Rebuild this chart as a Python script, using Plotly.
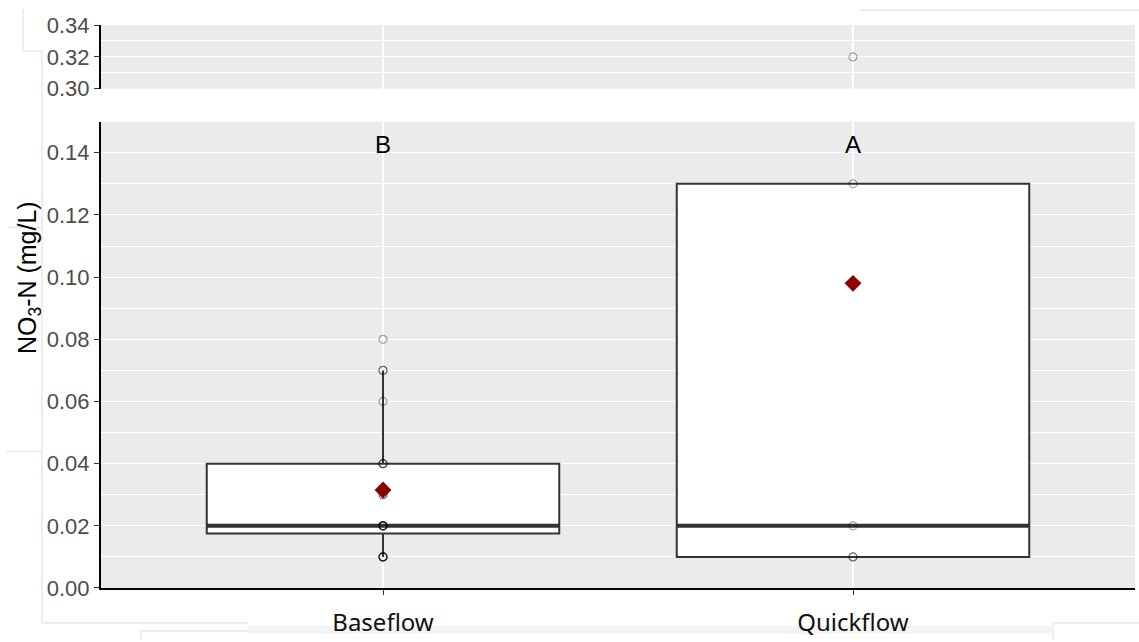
import numpy as np
import plotly.graph_objects as go

# Nitrate-nitrogen concentrations (mg/L) by flow component
categories = ["Baseflow", "Quickflow"]
baseflow = [0.01, 0.01, 0.01, 0.01, 0.01,
            0.02, 0.02, 0.02, 0.02, 0.02, 0.02,
            0.03, 0.03,
            0.04, 0.04, 0.04,
            0.06, 0.07, 0.07, 0.08]
quickflow = [0.01, 0.01, 0.02, 0.13, 0.32]
group_letters = ["B", "A"]
letter_y = 0.1425

series = [baseflow, quickflow]

# Styling constants
BOX_W = 0.75
BG = "#EBEBEB"
EDGE = "#333333"
LOW_RANGE = [0.0, 0.15]
HIGH_RANGE = [0.30, 0.34]

W, H = 1139, 642
ML, MR, MT, MB = 101, 4, 25, 52
plot_w = W - ML - MR
plot_h = H - MT - MB


def frac_x(px):
    return (px - ML) / plot_w


def frac_y(py):
    return (H - MB - py) / plot_h


def box_stats(vals):
    v = np.asarray(vals, dtype=float)
    q1, med, q3 = np.percentile(v, [25, 50, 75])
    iqr = q3 - q1
    lo = v[v >= q1 - 1.5 * iqr - 1e-12].min()
    hi = v[v <= q3 + 1.5 * iqr + 1e-12].max()
    return q1, med, q3, lo, hi, v.mean()


fig = go.Figure()

for i, (name, vals) in enumerate(zip(categories, series)):
    q1, med, q3, lo, hi, mean = box_stats(vals)
    fig.add_trace(go.Box(
        x=[i], q1=[q1], median=[med], q3=[q3],
        lowerfence=[lo], upperfence=[hi],
        width=BOX_W, whiskerwidth=0,
        fillcolor="white", line=dict(color=EDGE, width=2),
        boxpoints=False, showlegend=False, hoverinfo="skip",
        xaxis="x", yaxis="y",
    ))
    # thicker median bar
    fig.add_trace(go.Scatter(
        x=[i - BOX_W / 2, i + BOX_W / 2], y=[med, med], mode="lines",
        line=dict(color=EDGE, width=4), showlegend=False, hoverinfo="skip",
        xaxis="x", yaxis="y",
    ))
    # raw observations in both panels of the broken axis
    for ax, rng in (("y", LOW_RANGE), ("y2", HIGH_RANGE)):
        pts = [p for p in vals if rng[0] <= p <= rng[1]]
        if not pts:
            continue
        fig.add_trace(go.Scatter(
            x=[i] * len(pts), y=pts, mode="markers",
            marker=dict(symbol="circle-open", size=8, color="rgba(0,0,0,0.34)",
                        line=dict(width=1.2, color="rgba(0,0,0,0.34)")),
            showlegend=False, hoverinfo="skip",
            xaxis="x" if ax == "y" else "x2", yaxis=ax,
        ))
    # group mean
    fig.add_trace(go.Scatter(
        x=[i], y=[mean], mode="markers",
        marker=dict(symbol="diamond", size=13, color="#8B0000"),
        showlegend=False, hoverinfo="skip", xaxis="x", yaxis="y",
    ))

# significance letters
for i, letter in enumerate(group_letters):
    fig.add_annotation(x=i, y=letter_y, xref="x", yref="y", text=letter,
                       showarrow=False, yanchor="middle",
                       font=dict(family="Liberation Sans, Arial", size=24, color="black"))

# y-axis title
fig.add_annotation(
    x=frac_x(29), y=frac_y(279), xref="paper", yref="paper",
    text="NO<sub>3</sub>-N (mg/L)", textangle=-90, showarrow=False,
    xanchor="center", yanchor="middle",
    font=dict(family="Liberation Sans, Arial", size=25, color="black"),
)

# faint light-grey guide frame around the panel block
guide = dict(color="#E2E2E2", width=1.2)
guide_segments = [
    (23, 9, 23, 51), (23, 51, 42, 51), (42, 51, 42, 625),
    (6, 453, 42, 453), (8, 228, 42, 228), (42, 625, 248, 625),
    (141, 633, 141, 642), (141, 633, 248, 633),
    (860, 10, 1139, 10), (1053, 625, 1139, 625), (1053, 625, 1053, 642),
]
for x0, y0, x1, y1 in guide_segments:
    fig.add_shape(type="line", xref="paper", yref="paper",
                  x0=frac_x(x0), y0=frac_y(y0), x1=frac_x(x1), y1=frac_y(y1),
                  line=guide, layer="below")
fig.add_shape(type="rect", xref="paper", yref="paper",
              x0=frac_x(248), y0=frac_y(636), x1=frac_x(1053), y1=frac_y(628),
              line=dict(width=0), fillcolor="#F4F4F4", layer="below")

xcommon = dict(
    range=[-0.6, 1.6], tickvals=[0, 1], ticktext=categories,
    showgrid=True, gridcolor="white", gridwidth=1.5, zeroline=False,
)
ytick_font = dict(family="Liberation Sans, Arial", size=22, color="#4D4D4D")
ycommon = dict(
    dtick=0.02, tickformat=".2f", showgrid=True, gridcolor="white", gridwidth=1.4,
    zeroline=False, showline=True, linecolor="black", linewidth=2,
    ticks="outside", ticklen=5, tickwidth=1.4, tickcolor="#333333",
    tickfont=ytick_font,
    minor=dict(dtick=0.01, showgrid=True, gridcolor="white", gridwidth=0.7),
)

fig.update_layout(
    width=W, height=H,
    margin=dict(l=ML, r=MR, t=MT, b=MB),
    paper_bgcolor="white", plot_bgcolor=BG,
    xaxis=dict(**xcommon, anchor="y", showline=True, linecolor="black", linewidth=2,
               ticks="outside", ticklen=5, tickwidth=1.4, tickcolor="#333333",
               tickfont=dict(family="Noto Sans, Open Sans", size=24, color="#111111"),
               ticklabelstandoff=7),
    xaxis2=dict(**xcommon, anchor="y2", matches="x", showticklabels=False,
                showline=False, ticks=""),
    yaxis=dict(**ycommon, domain=[0, frac_y(122)], range=LOW_RANGE),
    yaxis2=dict(**ycommon, domain=[frac_y(89), 1], range=HIGH_RANGE),
    showlegend=False,
)

fig.write_html("out.html")
